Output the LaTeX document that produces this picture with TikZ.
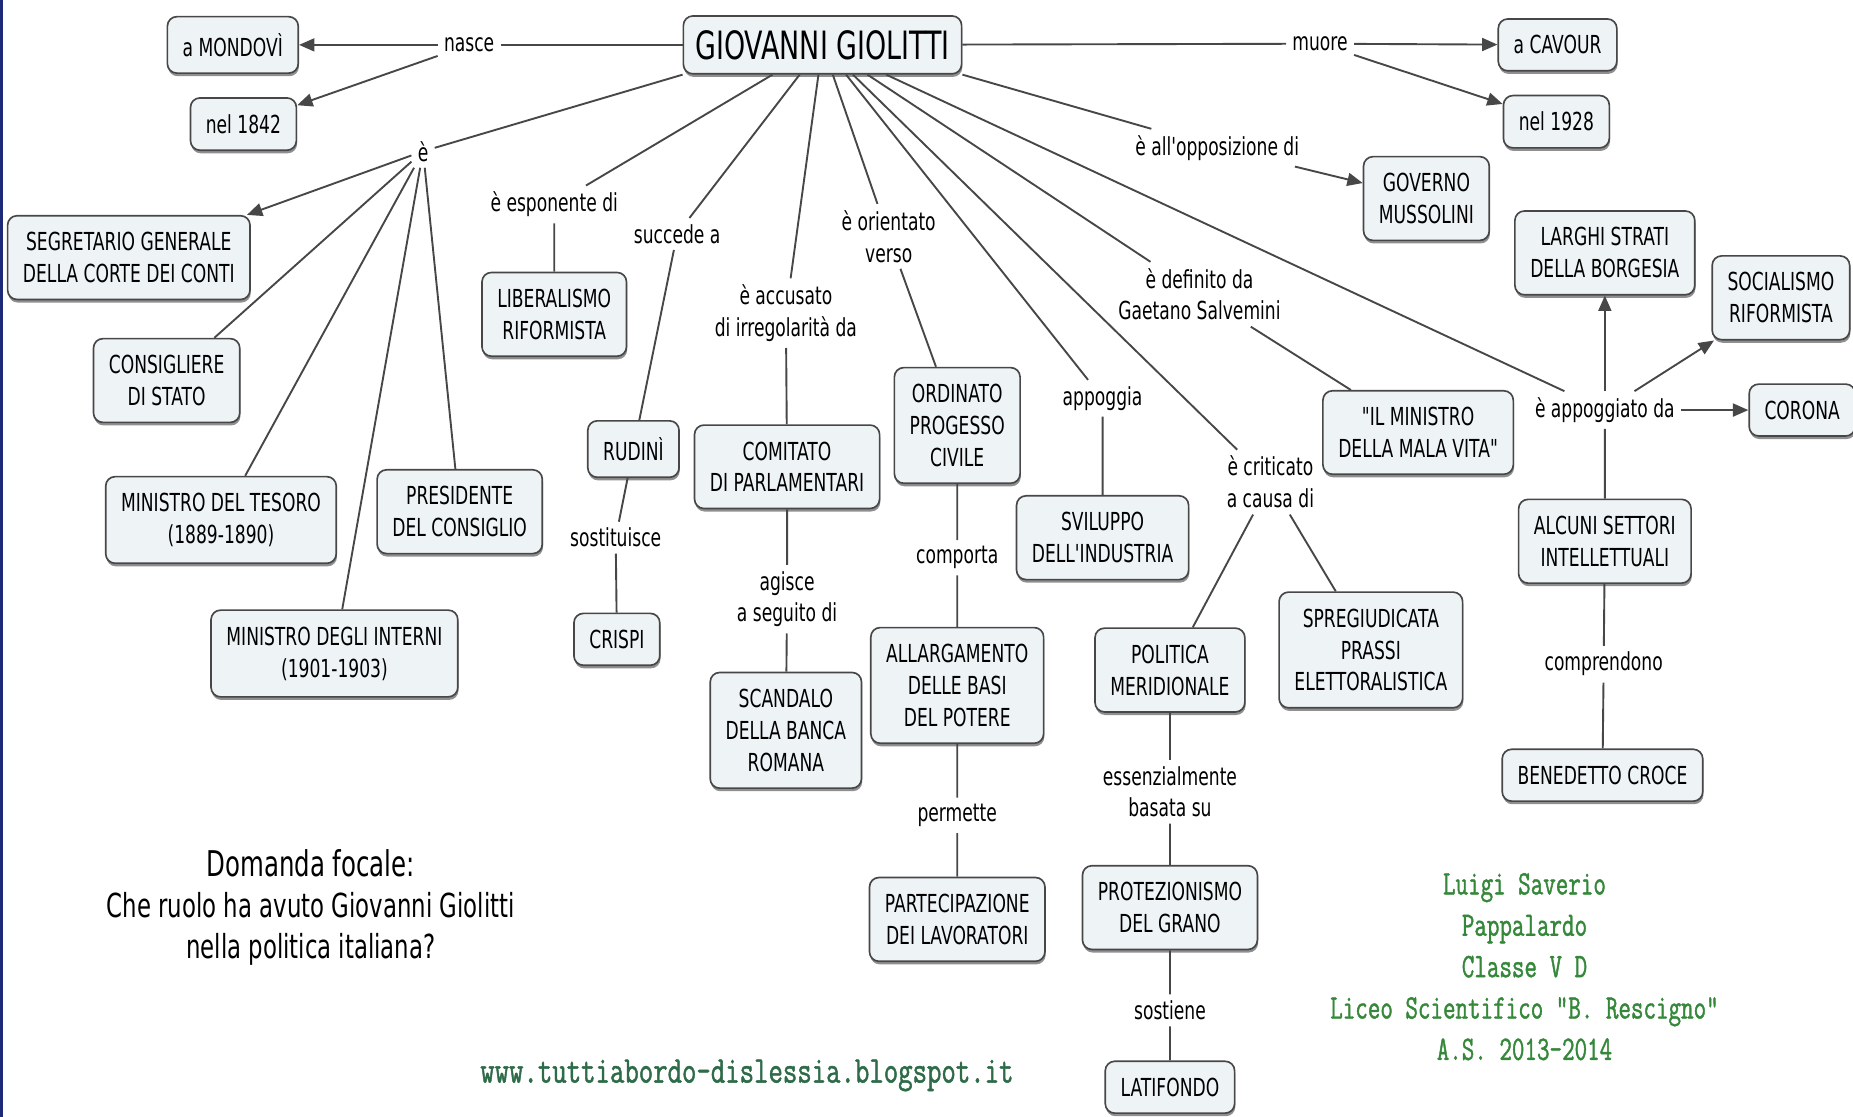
\documentclass[tikz,border=0pt]{standalone}
\usepackage{fontspec}
\setmainfont{DejaVu Sans}[FakeStretch=0.69, Ligatures=TeXOff]
\setmonofont{Latin Modern Mono}[FakeStretch=0.74, FakeBold=1.2]
\newfontfamily\verdefont{Latin Modern Mono}[FakeStretch=0.71, FakeBold=1.2]
\usepackage{xcolor}
\usepackage{tikz}
\usetikzlibrary{arrows.meta}
\usetikzlibrary{shadows}
\definecolor{boxfill}{HTML}{EEF3F6}
\definecolor{trait}{HTML}{474747}
\definecolor{urlvert}{HTML}{2E6B48}
\definecolor{nomvert}{HTML}{35873A}
\definecolor{bordure}{HTML}{1C2A78}
\tikzset{
  cpt/.style = {draw=trait, fill=boxfill, rounded corners=4pt, line width=0.7pt, align=center,
                inner xsep=6.5pt, inner ysep=7pt, font=\fontsize{10.5}{13.5}\selectfont,
                drop shadow={shadow xshift=0.3pt, shadow yshift=-1.3pt, fill=black!55, opacity=0.8}},% concept
  titre/.style = {cpt, inner xsep=5pt, inner ysep=6pt, font=\fontsize{16.5}{20}\selectfont},
  lnk/.style = {align=center, inner sep=2.5pt, font=\fontsize{10.5}{13.5}\selectfont},% phrase de liaison
  con/.style = {draw=trait, line width=0.8pt},
  fl/.style = {con, -{Triangle[length=6.5pt,width=5.5pt]}}
}
\begin{document}
\begin{tikzpicture}[x=0.5pt, y=-0.5pt]
\useasboundingbox (0,0) rectangle (1568,945);
\fill [bordure] (0,0) rectangle (2.5,945);
% concepts
\node [titre] (gg) at (696,38) {GIOVANNI GIOLITTI};
\node [cpt] (mondovi) at (197,38) {a MONDOVÌ};
\node [cpt] (n1842) at (206,105) {nel 1842};
\node [cpt] (cavour) at (1318,38) {a CAVOUR};
\node [cpt] (n1928) at (1317,103) {nel 1928};
\node [cpt] (segr) at (109,218) {SEGRETARIO GENERALE\\DELLA CORTE DEI CONTI};
\node [cpt] (consi) at (141,322) {CONSIGLIERE\\DI STATO};
\node [cpt] (tesoro) at (187,440) {MINISTRO DEL TESORO\\(1889-1890)};
\node [cpt] (presid) at (389,433) {PRESIDENTE\\DEL CONSIGLIO};
\node [cpt] (interni) at (283,553) {MINISTRO DEGLI INTERNI\\(1901-1903)};
\node [cpt] (liber) at (469,266) {LIBERALISMO\\RIFORMISTA};
\node [cpt] (rudini) at (536,380) {RUDINÌ};
\node [cpt] (crispi) at (522,541) {CRISPI};
\node [cpt] (comit) at (666,395) {COMITATO\\DI PARLAMENTARI};
\node [cpt] (scand) at (665,618) {SCANDALO\\DELLA BANCA\\ROMANA};
\node [cpt] (ordin) at (810,360) {ORDINATO\\PROGESSO\\CIVILE};
\node [cpt] (allarg) at (810,580) {ALLARGAMENTO\\DELLE BASI\\DEL POTERE};
\node [cpt] (partec) at (810,778) {PARTECIPAZIONE\\DEI LAVORATORI};
\node [cpt] (svil) at (933,455) {SVILUPPO\\DELL'INDUSTRIA};
\node [cpt] (polit) at (990,567) {POLITICA\\MERIDIONALE};
\node [cpt] (protez) at (990,768) {PROTEZIONISMO\\DEL GRANO};
\node [cpt] (latif) at (990,920) {LATIFONDO};
\node [cpt] (spreg) at (1160,550) {SPREGIUDICATA\\PRASSI\\ELETTORALISTICA};
\node [cpt] (malavita) at (1200,366) {"IL MINISTRO\\DELLA MALA VITA"};
\node [cpt] (governo) at (1207,168) {GOVERNO\\MUSSOLINI};
\node [cpt] (larghi) at (1358,214) {LARGHI STRATI\\DELLA BORGESIA};
\node [cpt] (social) at (1507,252) {SOCIALISMO\\RIFORMISTA};
\node [cpt] (corona) at (1525,347) {CORONA};
\node [cpt] (settori) at (1358,458) {ALCUNI SETTORI\\INTELLETTUALI};
\node [cpt] (croce) at (1356,656) {BENEDETTO CROCE};
% phrases de liaison
\node [lnk] (nasce) at (397,38) {nasce};
\node [lnk] (muore) at (1117,37) {muore};
\node [lnk] (e1) at (358,128) {è};
\node [lnk] (espon) at (469,173) {è esponente di};
\node [lnk] (succ) at (573,198) {succede a};
\node [lnk] (accus) at (665,265) {è accusato\\di irregolarità da};
\node [lnk] (orient) at (752,200) {è orientato\\verso};
\node [lnk] (appog) at (933,337) {appoggia};
\node [lnk] (defin) at (1015,249) {è definito da\\Gaetano Salvemini};
\node [lnk] (oppos) at (1030,125) {è all'opposizione di};
\node [lnk] (critic) at (1075,408) {è criticato\\a causa di};
\node [lnk] (appoggiato) at (1358,347) {è appoggiato da};
\node [lnk] (sostit) at (521,455) {sostituisce};
\node [lnk] (agisce) at (666,507) {agisce\\a seguito di};
\node [lnk] (comporta) at (810,472) {comporta};
\node [lnk] (permette) at (810,690) {permette};
\node [lnk] (essenz) at (990,670) {essenzialmente\\basata su};
\node [lnk] (sostiene) at (990,855) {sostiene};
\node [lnk] (compr) at (1357,562) {comprendono};
% connecteurs
\draw [con] (gg) -- (nasce);
\draw [fl] (nasce) -- (mondovi);
\draw [fl] (nasce) -- (n1842);
\draw [con] (gg) -- (muore);
\draw [fl] (muore) -- (cavour);
\draw [fl] (muore) -- (n1928);
\draw [con] (gg.south west) -- (e1);
\draw [fl] (e1) -- (segr);
\draw [con] (e1) -- (consi);
\draw [con] (e1) -- (tesoro);
\draw [con] (e1) -- (interni);
\draw [con] (e1) -- (presid);
\draw [con] (gg) -- (espon) -- (liber);
\draw [con] (gg) -- (succ) -- (rudini) -- (sostit) -- (crispi);
\draw [con] (gg) -- (accus) -- (comit) -- (agisce) -- (scand);
\draw [con] (gg) -- (orient) -- (ordin) -- (comporta) -- (allarg) -- (permette) -- (partec);
\draw [con] (gg) -- (appog) -- (svil);
\draw [con] (gg) -- (critic) -- (polit) -- (essenz) -- (protez) -- (sostiene) -- (latif);
\draw [con] (critic) -- (spreg);
\draw [con] (gg) -- (defin) -- (malavita);
\draw [con] (gg.south east) -- (oppos);
\draw [fl] (oppos) -- (governo);
\draw [con] (gg) -- (appoggiato);
\draw [fl] (appoggiato) -- (larghi);
\draw [fl] (appoggiato) -- (social);
\draw [fl] (appoggiato) -- (corona);
\draw [con] (appoggiato) -- (settori) -- (compr) -- (croce);
% testi liberi
\node [align=center, font=\fontsize{14}{17.5}\selectfont] (domanda) at (263,768)
  {{\fontsize{15}{17.5}\selectfont Domanda focale:}\\Che ruolo ha avuto Giovanni Giolitti\\nella politica italiana?};
\node [text=urlvert, font=\ttfamily\fontsize{16}{18}\selectfont] (url) at (632,910)
  {www.tuttiabordo-dislessia.blogspot.it};
\node [text=nomvert, align=center, font=\verdefont\fontsize{14.5}{17.5}\selectfont] (autore) at (1290,818)
  {Luigi Saverio\\Pappalardo\\Classe V D\\Liceo Scientifico "B. Rescigno"\\A.S. 2013-2014};
\end{tikzpicture}
\end{document}
